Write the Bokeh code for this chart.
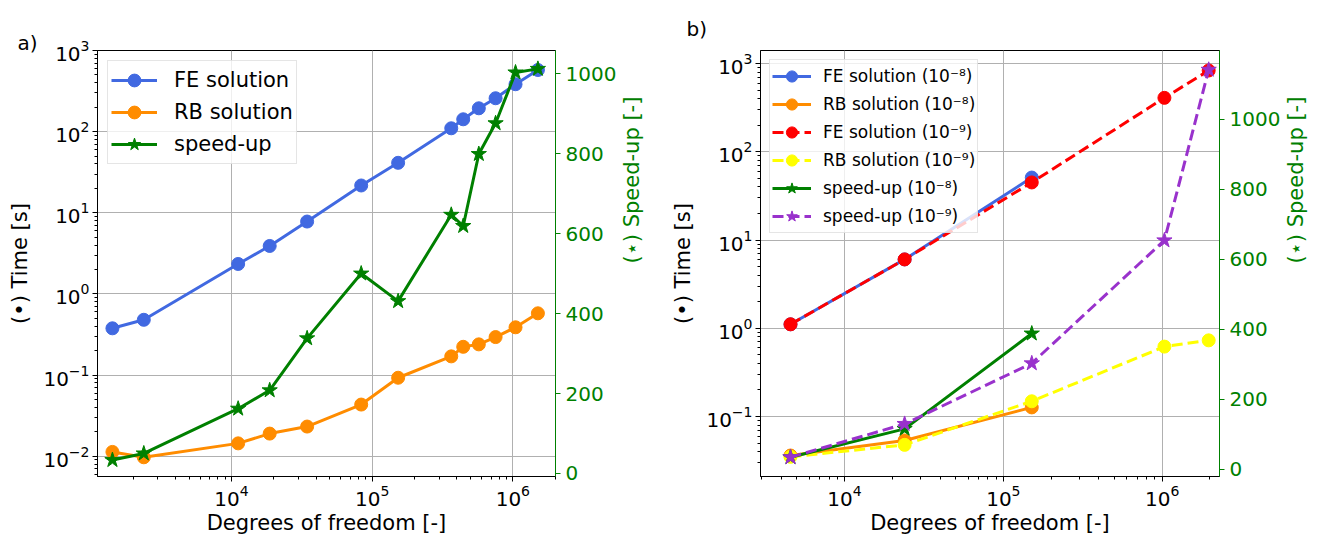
import numpy as np
from bokeh.plotting import figure
from bokeh.models import Range1d, LinearAxis, LinearScale, FixedTicker, Legend, LegendItem, Title
from bokeh.layouts import row
from bokeh.embed import file_html
from bokeh.resources import INLINE

FONT = "DejaVu Sans"

# ---------------- panel a) data ----------------
dof_a = [1426, 2383, 11160, 18700, 34500, 83600, 153000, 365000, 444000, 573000, 754000, 1045000, 1507000]
fe_a = [0.377, 0.48, 2.34, 3.9, 7.8, 21.7, 41.3, 110, 142, 194, 258, 384, 575]
rb_a = [0.0113, 0.0097, 0.0144, 0.019, 0.0232, 0.0433, 0.0927, 0.17, 0.223, 0.239, 0.294, 0.388, 0.577]
speed_a = [33.5, 50, 162, 208, 338, 500, 431, 647, 619, 799, 876, 1003, 1012]

# ---------------- panel b) data ----------------
dof_b = [4570, 23900, 151000, 1033000, 1963000]
fe8_b = [1.11, 6.03, 51]
rb8_b = [0.0362, 0.0536, 0.127]
fe9_b = [1.11, 6.03, 44.9, 408, 833]
rb9_b = [0.035, 0.0478, 0.149, 0.62, 0.73]
sp8_b = [35, 116, 388]
sp9_b = [35, 130, 303, 654, 1141]

labels_a = ["FE solution", "RB solution", "speed-up"]
labels_b = ["FE solution (10⁻⁸)", "RB solution (10⁻⁸)", "FE solution (10⁻⁹)",
            "RB solution (10⁻⁹)", "speed-up (10⁻⁸)", "speed-up (10⁻⁹)"]
speed_ticks = [0, 200, 400, 600, 800, 1000]

time_label = "(•) Time [s]"
speed_label = "(⋆) Speed-up [-]"
x_label = "Degrees of freedom [-]"

GREEN = "#008000"
FH = 426


def log_ticks(lo, hi):
    major = [10.0 ** e for e in range(lo, hi + 1)]
    minor = [m * 10.0 ** e for e in range(lo - 1, hi + 1) for m in range(2, 10)]
    return FixedTicker(ticks=major, minor_ticks=minor)


def make_fig(xr, yr, y2r, bl, br, fw, xt, yt, panel, poff, pstand):
    p = figure(frame_width=fw, frame_height=FH,
               x_axis_type="log", y_axis_type="log",
               x_range=Range1d(*xr), y_range=Range1d(*yr),
               output_backend="svg", toolbar_location=None,
               min_border_left=bl, min_border_right=br,
               min_border_top=50, min_border_bottom=58)
    p.title = Title(text=panel, align="left", offset=poff, standoff=pstand,
                    text_font=FONT, text_font_size="20px", text_font_style="normal",
                    text_color="black")
    p.outline_line_color = "black"
    p.outline_line_width = 1
    p.extra_y_ranges = {"speed": Range1d(*y2r)}
    p.extra_y_scales = {"speed": LinearScale()}
    ax2 = LinearAxis(y_range_name="speed", ticker=FixedTicker(ticks=speed_ticks),
                     axis_label=speed_label)
    try:
        ax2.axis_label_orientation = np.pi / 2
    except Exception:
        pass
    p.add_layout(ax2, "right")

    p.xaxis.ticker = log_ticks(*xt)
    p.yaxis[0].ticker = log_ticks(*yt)
    p.xaxis.axis_label = x_label
    p.yaxis[0].axis_label = time_label

    for ax in p.axis:
        ax.axis_label_text_font = FONT
        ax.axis_label_text_font_size = "21px"
        ax.axis_label_text_font_style = "normal"
        ax.axis_label_text_color = "black"
        ax.major_label_text_font = FONT
        ax.major_label_text_font_size = "20px"
        ax.major_label_text_color = "black"
        ax.major_tick_in = 0
        ax.major_tick_out = 5
        ax.minor_tick_in = 0
        ax.minor_tick_out = 3
        ax.major_label_standoff = 3
        ax.axis_label_standoff = 2
        ax.axis_line_color = "black"
        ax.major_tick_line_color = "black"
        ax.minor_tick_line_color = "black"
    p.yaxis[0].axis_label_standoff = 8
    ax2.axis_line_color = GREEN
    ax2.major_tick_line_color = GREEN
    ax2.minor_tick_line_color = None
    ax2.major_label_text_color = GREEN
    ax2.axis_label_text_color = GREEN
    ax2.major_label_standoff = 5
    ax2.axis_label_standoff = 13

    p.xgrid.grid_line_color = "#b0b0b0"
    p.ygrid.grid_line_color = "#b0b0b0"
    p.xgrid.grid_line_width = 1
    p.ygrid.grid_line_width = 1
    return p


def series(p, x, y, color, marker, dash="solid", y_range_name="default", size=13):
    l = p.line(x, y, line_color=color, line_width=3, line_dash=dash, y_range_name=y_range_name)
    s = p.scatter(x, y, marker=marker, size=size, fill_color=color, line_color=color,
                  y_range_name=y_range_name)
    return [l, s]


# ---------------- panel a) ----------------
pa = make_fig((1117, 2.01e6), (10 ** -2.25, 1000), (-7.6, 1058), 97, 105, 458, (4, 6), (-2, 3),
              "a)", -80, -8)
ra1 = series(pa, dof_a, fe_a, "royalblue", "circle")
ra2 = series(pa, dof_a, rb_a, "darkorange", "circle")
ra3 = series(pa, dof_a, speed_a, GREEN, "star", y_range_name="speed", size=16)

leg_a = Legend(items=[LegendItem(label=labels_a[0], renderers=ra1),
                      LegendItem(label=labels_a[1], renderers=ra2),
                      LegendItem(label=labels_a[2], renderers=ra3)],
               location="top_left", label_text_font=FONT, label_text_font_size="21px",
               label_text_color="black",
               glyph_width=46, glyph_height=32, label_height=32, spacing=0,
               label_standoff=17, padding=3, margin=10,
               border_line_color="#cccccc", border_line_width=1,
               background_fill_alpha=0.8)
pa.add_layout(leg_a)

# ---------------- panel b) ----------------
pb = make_fig((2958, 2.296e6), (0.02094, 1403), (-20, 1196), 100, 99, 459, (4, 6), (-1, 3),
              "b)", -74, 20)
rb1 = series(pb, dof_b[:3], fe8_b, "royalblue", "circle")
rb2 = series(pb, dof_b[:3], rb8_b, "darkorange", "circle")
rb3 = series(pb, dof_b, fe9_b, "red", "circle", dash="11 5")
rb4 = series(pb, dof_b, rb9_b, "yellow", "circle", dash="11 5")
rb5 = series(pb, dof_b[:3], sp8_b, GREEN, "star", y_range_name="speed", size=16)
rb6 = series(pb, dof_b, sp9_b, "darkorchid", "star", dash="11 5", y_range_name="speed", size=16)

leg_b = Legend(items=[LegendItem(label=labels_b[i], renderers=r)
                      for i, r in enumerate([rb1, rb2, rb3, rb4, rb5, rb6])],
               location="top_left", label_text_font=FONT, label_text_font_size="17px",
               label_text_color="black",
               glyph_width=39, glyph_height=28, label_height=28, spacing=0,
               label_standoff=12, padding=2, margin=9,
               border_line_color="#cccccc", border_line_width=1,
               background_fill_alpha=0.8)
pb.add_layout(leg_b)

layout = row(pa, pb)
open("out.html", "w").write(file_html(layout, INLINE))
